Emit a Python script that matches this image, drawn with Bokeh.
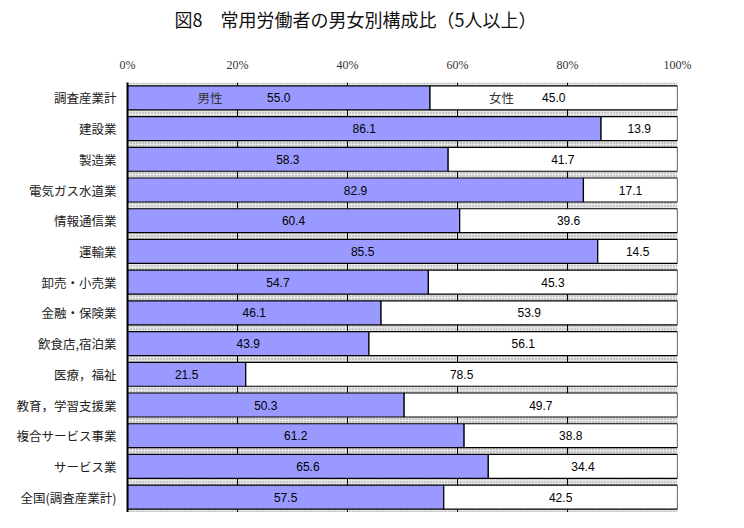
from bokeh.plotting import figure
from bokeh.models import Range1d, FactorRange, FixedTicker, PrintfTickFormatter, ColumnDataSource, Title
from bokeh.core.properties import value
from bokeh.embed import file_html
from bokeh.resources import INLINE

categories = ["調査産業計", "建設業", "製造業", "電気ガス水道業", "情報通信業", "運輸業",
              "卸売・小売業", "金融・保険業", "飲食店,宿泊業", "医療，福祉", "教育，学習支援業",
              "複合サービス事業", "サービス業", "全国(調査産業計)"]
male = [55.0, 86.1, 58.3, 82.9, 60.4, 85.5, 54.7, 46.1, 43.9, 21.5, 50.3, 61.2, 65.6, 57.5]
female = [45.0, 13.9, 41.7, 17.1, 39.6, 14.5, 45.3, 53.9, 56.1, 78.5, 49.7, 38.8, 34.4, 42.5]
x_ticks = [0, 20, 40, 60, 80, 100]
legend_names = ["男性", "女性"]
legend_pos = [15, 68]
title_text = "図8　常用労働者の男女別構成比（5人以上）"

JP = "Noto Sans CJK JP"

p = figure(width=728, height=512, output_backend="svg", toolbar_location=None,
           x_range=Range1d(0, 100), y_range=FactorRange(factors=list(reversed(categories)), range_padding=0),
           x_axis_location="above", min_border_left=127, min_border_right=51,
           min_border_top=82, min_border_bottom=0, outline_line_color=None)

p.title = Title(text=title_text + "\n", text_font=JP, text_font_size="18px", text_line_height=0.87,
                text_font_style="normal", text_color="#111111", align="left", offset=47, standoff=0)

src = ColumnDataSource(dict(cat=categories, male=male, female=female,
                            fstart=[m for m in male], fend=[m + f for m, f in zip(male, female)],
                            mx=[m / 2 for m in male], fx=[m + f / 2 for m, f in zip(male, female)],
                            mt=["%.1f" % m for m in male], ft=["%.1f" % f for f in female],
                            full=[100] * len(categories)))

p.hbar(y="cat", left=0, right="full", height=1.0, source=src, fill_color="#e6e6e6",
       hatch_pattern="dot", hatch_color="#909090", hatch_scale=3, hatch_weight=1,
       line_color=None, level="image")

p.hbar(y="cat", left=0, right="male", height=0.78, source=src, fill_color="#9999ff",
       line_color="black", line_width=1.2)
p.hbar(y="cat", left="fstart", right="fend", height=0.78, source=src, fill_color="white",
       line_color="black", line_width=1.2)

p.text(x="mx", y="cat", text="mt", source=src, text_font=value("Liberation Sans"),
       text_font_size="12px", text_align="center", text_baseline="middle", text_color="black")
p.text(x="fx", y="cat", text="ft", source=src, text_font=value("Liberation Sans"),
       text_font_size="12px", text_align="center", text_baseline="middle", text_color="black")

lsrc = ColumnDataSource(dict(x=legend_pos, y=[categories[0]] * 2, t=legend_names))
p.rect(x=legend_pos[0], y=categories[0], width=8.2, height=0.68, fill_color="white", line_color=None)
p.text(x="x", y="y", text="t", source=lsrc, text_font=value(JP), text_font_size="12.5px",
       text_align="center", text_baseline="middle", text_color="#333333")

p.xaxis.ticker = FixedTicker(ticks=x_ticks)
p.xaxis.formatter = PrintfTickFormatter(format="%d%%")
p.xaxis.axis_line_color = None
p.xaxis.major_tick_line_color = None
p.xaxis.minor_tick_line_color = None
p.xaxis.major_label_text_font = "Liberation Serif"
p.xaxis.major_label_text_font_size = "12px"
p.xaxis.major_label_text_color = "#333333"
p.xaxis.major_label_standoff = 5

p.yaxis.axis_line_color = "black"
p.yaxis.axis_line_width = 2
p.yaxis.major_tick_line_color = None
p.yaxis.major_label_text_font = JP
p.yaxis.major_label_text_font_size = "12.5px"
p.yaxis.major_label_text_color = "#222222"
p.yaxis.major_label_standoff = 5

p.xgrid.ticker = FixedTicker(ticks=x_ticks)
p.xgrid.grid_line_color = "black"
p.xgrid.grid_line_width = 1
p.ygrid.grid_line_color = None
p.background_fill_color = "white"

open("out.html", "w").write(file_html(p, INLINE))
